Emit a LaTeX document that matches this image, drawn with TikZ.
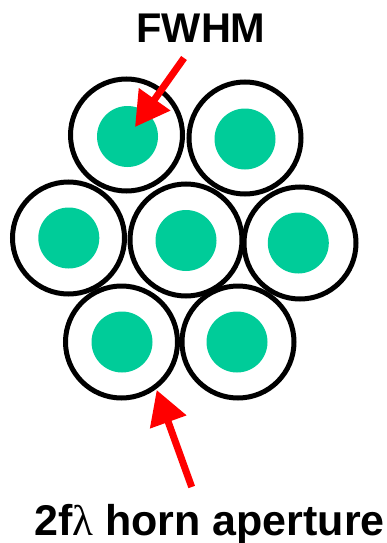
\documentclass[tikz,border=0pt]{standalone}
\usepackage{fontspec}
\setmainfont{Liberation Sans}
\newfontfamily\lamfont{Liberation Serif}
\usetikzlibrary{arrows.meta}
\definecolor{beamgreen}{RGB}{0,204,153}
\tikzset{
  horn/.style={circle,draw=black,line width=5pt,minimum size=112pt,inner sep=0pt},
  beam/.style={circle,fill=beamgreen,minimum size=61pt,inner sep=0pt},
  label/.style={font=\fontsize{41.5}{50}\selectfont\bfseries,inner sep=0pt,anchor=base},
  pointer/.style={red,line width=7pt,-{Triangle[length=34pt,width=37pt]}}
}
\begin{document}
\begin{tikzpicture}[x=1pt,y=-1pt]
\useasboundingbox (0,0) rectangle (387,543);
% horns
\node[horn] (hA) at (126.5,135) {};
\node[horn] (hB) at (245,138) {};
\node[horn] (hC) at (68.5,238) {};
\node[horn] (hD) at (186,240) {};
\node[horn] (hE) at (300,243) {};
\node[horn] (hF) at (121.5,342) {};
\node[horn] (hG) at (238,342) {};
% beams
\node[beam] (bA) at (127.5,136.5) {};
\node[beam] (bB) at (245,139) {};
\node[beam] (bC) at (68.8,238) {};
\node[beam] (bD) at (186,240.5) {};
\node[beam] (bE) at (298.3,243) {};
\node[beam] (bF) at (122,342) {};
\node[beam] (bG) at (237,342) {};
% labels
\node[label] (fwhm) at (201,43) {FWHM};
\node[label,font=\fontsize{43}{50}\selectfont\bfseries] (ap) at (209.5,535) {2f{\lamfont\mdseries λ} horn aperture};
% arrows
\coordinate (t1) at (184,58);
\coordinate (p1) at (135,127);
\coordinate (t2) at (191.7,487);
\coordinate (p2) at (156.7,390);
\draw[pointer] (t1) -- (p1);
\draw[pointer] (t2) -- (p2);
\end{tikzpicture}
\end{document}
